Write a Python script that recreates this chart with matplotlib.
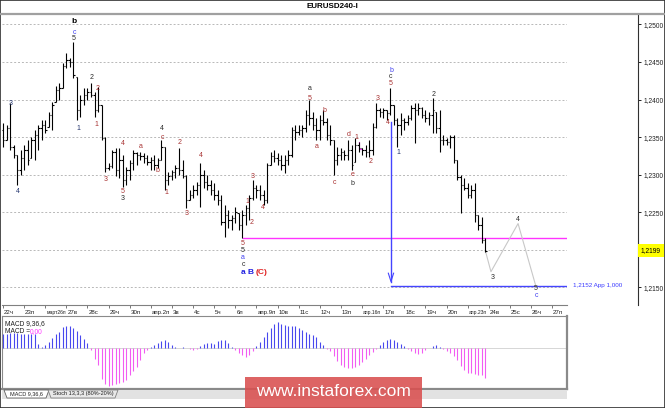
import numpy as np
import matplotlib
matplotlib.use("Agg")
import matplotlib.pyplot as plt
import matplotlib.transforms as mtransforms
from matplotlib.collections import LineCollection
from matplotlib.lines import Line2D
from matplotlib.patches import Rectangle, Polygon

plt.rcParams['font.family'] = ['Liberation Sans', 'DejaVu Sans']

# EURUSD H4 bars, 22 Mar .. 23 Apr
high = [1.2369, 1.2366, 1.2395, 1.2339, 1.2326, 1.2333, 1.2339, 1.2346, 1.2350, 1.2359,
        1.2366, 1.2373, 1.2373, 1.2383, 1.2397, 1.2418, 1.2422, 1.2449, 1.2462, 1.2455,
        1.2476, 1.2430, 1.2406, 1.2415, 1.2415, 1.2422, 1.2410, 1.2417, 1.2393, 1.2350,
        1.2316, 1.2333, 1.2335, 1.2335, 1.2326, 1.2310, 1.2320, 1.2333, 1.2330, 1.2330,
        1.2329, 1.2326, 1.2324, 1.2326, 1.2322, 1.2346, 1.2337, 1.2304, 1.2306, 1.2313,
        1.2335, 1.2320, 1.2300, 1.2280, 1.2286, 1.2290, 1.2316, 1.2306, 1.2300, 1.2293,
        1.2289, 1.2280, 1.2273, 1.2260, 1.2253, 1.2246, 1.2257, 1.2249, 1.2253, 1.2260,
        1.2273, 1.2293, 1.2286, 1.2286, 1.2280, 1.2316, 1.2330, 1.2333, 1.2329, 1.2326,
        1.2326, 1.2333, 1.2363, 1.2366, 1.2366, 1.2366, 1.2386, 1.2399, 1.2383, 1.2375,
        1.2379, 1.2386, 1.2375, 1.2366, 1.2346, 1.2337, 1.2335, 1.2333, 1.2346, 1.2339,
        1.2349, 1.2343, 1.2335, 1.2339, 1.2346, 1.2369, 1.2395, 1.2389, 1.2389, 1.2386,
        1.2415, 1.2393, 1.2375, 1.2382, 1.2375, 1.2379, 1.2393, 1.2395, 1.2395, 1.2390,
        1.2386, 1.2383, 1.2402, 1.2383, 1.2386, 1.2353, 1.2349, 1.2353, 1.2353, 1.2320,
        1.2300, 1.2296, 1.2289, 1.2286, 1.2289, 1.2246, 1.2244, 1.2216]
low = [1.2337, 1.2346, 1.2333, 1.2322, 1.2286, 1.2300, 1.2306, 1.2313, 1.2322, 1.2320,
       1.2333, 1.2346, 1.2355, 1.2363, 1.2359, 1.2397, 1.2399, 1.2415, 1.2442, 1.2443,
       1.2429, 1.2373, 1.2377, 1.2393, 1.2399, 1.2403, 1.2377, 1.2383, 1.2346, 1.2304,
       1.2306, 1.2309, 1.2298, 1.2296, 1.2284, 1.2286, 1.2293, 1.2306, 1.2313, 1.2320,
       1.2316, 1.2313, 1.2306, 1.2306, 1.2309, 1.2320, 1.2280, 1.2286, 1.2293, 1.2296,
       1.2300, 1.2296, 1.2256, 1.2266, 1.2269, 1.2273, 1.2257, 1.2282, 1.2280, 1.2273,
       1.2266, 1.2260, 1.2233, 1.2217, 1.2229, 1.2226, 1.2236, 1.2226, 1.2216, 1.2233,
       1.2240, 1.2266, 1.2269, 1.2266, 1.2260, 1.2262, 1.2313, 1.2317, 1.2313, 1.2306,
       1.2302, 1.2313, 1.2324, 1.2346, 1.2353, 1.2350, 1.2357, 1.2366, 1.2359, 1.2346,
       1.2346, 1.2366, 1.2346, 1.2339, 1.2300, 1.2313, 1.2320, 1.2320, 1.2320, 1.2306,
       1.2317, 1.2330, 1.2326, 1.2324, 1.2324, 1.2326, 1.2362, 1.2377, 1.2375, 1.2373,
       1.2379, 1.2366, 1.2337, 1.2353, 1.2359, 1.2366, 1.2373, 1.2342, 1.2379, 1.2375,
       1.2370, 1.2366, 1.2355, 1.2355, 1.2330, 1.2339, 1.2339, 1.2335, 1.2316, 1.2293,
       1.2249, 1.2280, 1.2269, 1.2269, 1.2237, 1.2226, 1.2209, 1.2197]
close = [1.2346, 1.2362, 1.2337, 1.2326, 1.2306, 1.2322, 1.2333, 1.2320, 1.2346, 1.2353,
         1.2362, 1.2366, 1.2359, 1.2379, 1.2393, 1.2413, 1.2415, 1.2445, 1.2453, 1.2450,
         1.2433, 1.2386, 1.2399, 1.2406, 1.2410, 1.2406, 1.2386, 1.2393, 1.2349, 1.2309,
         1.2312, 1.2330, 1.2306, 1.2320, 1.2293, 1.2306, 1.2316, 1.2329, 1.2326, 1.2325,
         1.2322, 1.2317, 1.2320, 1.2313, 1.2320, 1.2337, 1.2293, 1.2298, 1.2304, 1.2309,
         1.2306, 1.2298, 1.2266, 1.2273, 1.2280, 1.2286, 1.2300, 1.2290, 1.2286, 1.2280,
         1.2273, 1.2266, 1.2237, 1.2246, 1.2240, 1.2242, 1.2250, 1.2233, 1.2246, 1.2256,
         1.2269, 1.2282, 1.2280, 1.2273, 1.2266, 1.2313, 1.2325, 1.2322, 1.2320, 1.2313,
         1.2320, 1.2326, 1.2359, 1.2357, 1.2359, 1.2362, 1.2379, 1.2375, 1.2366, 1.2359,
         1.2373, 1.2370, 1.2353, 1.2346, 1.2320, 1.2326, 1.2330, 1.2326, 1.2333, 1.2313,
         1.2339, 1.2335, 1.2333, 1.2330, 1.2333, 1.2363, 1.2386, 1.2383, 1.2386, 1.2382,
         1.2393, 1.2373, 1.2366, 1.2373, 1.2370, 1.2375, 1.2389, 1.2386, 1.2389, 1.2379,
         1.2375, 1.2379, 1.2386, 1.2362, 1.2346, 1.2346, 1.2343, 1.2350, 1.2320, 1.2297,
         1.2286, 1.2282, 1.2273, 1.2280, 1.2246, 1.2233, 1.2213, 1.2199]
first_open = 1.2360

# MACD(9,36,6) histogram, in 1e-4
macd_hist = [14, 14, 15, 15, 15, 14, 14, 14, 14, 14,
             4, 1, 3, 6, 10, 14, 16, 21, 22, 22, 20, 17, 13, 9, 5, -2,
             -11, -17, -31, -36, -38, -37, -36, -35, -34, -32, -27, -23, -19, -12, -5, -2,
             1, 3, 5, 7, 8, 6, 3, 1, 0.5, 1,
             0.3, -0.5, -1.5, -0.5,
             2, 4, 5, 5, 4, 7, 8, 8, 5, 1,
             -2, -5, -7, -9, -7, -3,
             2, 6, 11, 16, 20, 24, 26, 24, 23, 22, 22, 22, 20, 18, 16, 14, 13, 11, 6, 3,
             -1, -3, -8, -13, -17, -19, -20, -20, -19, -17, -14, -11, -7, -4, -1,
             3, 6, 8, 9, 8, 6, 4, 2,
             -1, -3, -5, -6, -5, -2,
             0.5, 2, 3, 1.5,
             -1, -3, -5, -8, -12, -18, -22, -25, -25, -26, -27, -27, -30]

day_labels = ["22ч", "23п", "март26п", "27в", "28с", "29ч", "30п", "апр.2п", "3в", "4с",
              "5ч", "6п", "апр.9п", "10в", "11с", "12ч", "13п", "апр.16п", "17в", "18с",
              "19ч", "20п", "апр.23п", "24в", "25с", "26ч", "27п"]
bars_per_day = 6

grid_levels = [1.2150, 1.2200, 1.2250, 1.2300, 1.2350, 1.2400, 1.2450, 1.2500]
price_ticks = [1.2150, 1.2250, 1.2300, 1.2350, 1.2400, 1.2450, 1.2500]
last_price = 1.2199

support_level = 1.2216   # magenta line
support_from = 68.2
target_level = 1.2152    # blue line
target_from = 110.2
target_top = 1.2370

forecast_bar = [137, 138.6, 146.3, 151.4]
forecast_price = [1.2199, 1.2171, 1.2235, 1.2151]

RED = '#a83232'
DARK = '#2a2a2a'
NAVY = '#24356e'
BLUE = '#4040f0'

# wave marks: bar, price, text, colour
waves = [
    (2.3, 1.2395, '3', NAVY), (4.3, 1.2278, '4', NAVY),
    (20.2, 1.2489, 'c', BLUE), (20.2, 1.2481, '5', DARK),
    (21.3, 1.2362, '1', NAVY), (25.3, 1.2429, '2', DARK),
    (27.0, 1.2415, '2', RED), (26.4, 1.2367, '1', RED), (29.3, 1.2294, '3', RED),
    (34.1, 1.2342, '4', RED), (34.1, 1.2278, '5', RED), (34.1, 1.2269, '3', DARK),
    (39.2, 1.2337, 'a', RED), (45.2, 1.2361, '4', DARK), (45.2, 1.2350, 'c', RED),
    (44.0, 1.2305, 'b', RED), (46.3, 1.2276, '1', RED), (50.3, 1.2343, '2', RED),
    (52.3, 1.2248, '3', RED), (56.3, 1.2325, '4', RED),
    (68.2, 1.2208, '5', RED), (68.2, 1.2199, '5', DARK), (68.2, 1.2190, 'a', BLUE),
    (68.2, 1.2181, 'c', DARK),
    (69.3, 1.2264, '1', RED), (70.5, 1.2237, '2', RED), (71.0, 1.2297, '3', RED),
    (73.9, 1.2256, '4', RED),
    (87.2, 1.2414, 'a', DARK), (87.2, 1.2402, '5', RED), (89.2, 1.2337, 'a', RED),
    (91.2, 1.2385, 'b', RED), (94.3, 1.2290, 'c', RED), (98.3, 1.2353, 'd', RED),
    (99.4, 1.2300, 'e', RED), (99.4, 1.2288, 'b', DARK), (100.3, 1.2350, '1', RED),
    (104.3, 1.2317, '2', RED), (106.3, 1.2401, '3', RED), (109.4, 1.2369, '4', RED),
    (110.2, 1.2439, 'b', BLUE), (110.2, 1.2430, 'c', DARK), (110.2, 1.2421, '5', RED),
    (112.2, 1.2329, '1', NAVY), (122.2, 1.2407, '2', DARK),
    (139.2, 1.2163, '3', DARK), (146.3, 1.2241, '4', DARK),
    (151.4, 1.2148, '5', DARK), (151.4, 1.2139, 'c', BLUE),
]

W, H = 665, 408


def fx(px):
    return px / W


def fy(py):
    return 1 - py / H


def fmt(v):
    return f"{v:.4f}".replace('.', ',')


fig = plt.figure(figsize=(W / 100, H / 100), dpi=100)

# ---- main price panel
ax = fig.add_axes([fx(2), fy(305), fx(567) - fx(2), fy(15) - fy(305)])
ax.set_xlim(-0.28, 160.2)
ax.set_ylim(1.21267, 1.25124)
for lvl in grid_levels:
    ax.axhline(lvl, color='#b8b8b8', lw=0.7, ls=(0, (2, 2)), zorder=0)

n = len(close)
opens = [first_open] + close[:-1]
segs = []
for i in range(n):
    o = min(max(opens[i], low[i]), high[i])
    segs.append([(i, low[i]), (i, high[i])])
    segs.append([(i - 0.4, o), (i, o)])
    segs.append([(i, close[i]), (i + 0.4, close[i])])
ax.add_collection(LineCollection(segs, colors='black', linewidths=0.8, zorder=3))

# levels, arrow and forecast path
ax.plot([support_from, 160.2], [support_level] * 2, color='#ff33ff', lw=1.0, zorder=2)
ax.plot([target_from, 160.2], [target_level] * 2, color='#4444ff', lw=1.0, zorder=2)
ax.plot([target_from, target_from], [target_top, target_level + 0.0005], color='#4444ff', lw=1.0)
ax.plot([target_from - 0.75, target_from, target_from + 0.75],
        [target_level + 0.0017, target_level + 0.0006, target_level + 0.0017],
        color='#4444ff', lw=0.8)
ax.plot([101.1, 101.1, 102.0], [1.2343, 1.2334, 1.2334], color='#ff33ff', lw=0.8)
ax.plot(forecast_bar, forecast_price, color='#c8c8c8', lw=0.8, zorder=2)
ax.text(161.9, target_level, "1,2152 App 1,000", color='#3a3aff', fontsize=4.5,
        ha='left', va='center', clip_on=False)

for b, p, t, c in waves:
    ax.text(b, p, t, color=c, fontsize=5, ha='center', va='center', zorder=4)
ax.text(20.2, 1.2499, 'b', color='black', fontsize=6, fontweight='bold', ha='center', va='bottom')
ax.text(68.2, 1.2170, 'a', color='#2020e0', fontsize=6, fontweight='bold', ha='center', va='center')
ax.text(70.3, 1.2170, 'B', color='#2020e0', fontsize=6, fontweight='bold', ha='center', va='center')
ax.text(73.4, 1.2170, '(C)', color='#e02020', fontsize=6, fontweight='bold', ha='center', va='center')

for s in ['top', 'left', 'right']:
    ax.spines[s].set_visible(False)
ax.spines['bottom'].set_color('#808080')
ax.spines['bottom'].set_linewidth(0.8)
ax.set_yticks([])
ax.set_xticks([d * bars_per_day for d in range(len(day_labels))])
ax.set_xticklabels(day_labels)
ax.tick_params(axis='x', length=2.5, width=0.6, color='#606060', labelsize=4.4, pad=1,
               labelcolor='#202020')
shift = mtransforms.ScaledTranslation(1.0 / 100, 0, fig.dpi_scale_trans)
for lab in ax.get_xticklabels():
    lab.set_horizontalalignment('left')
    lab.set_transform(lab.get_transform() + shift)
    if len(lab.get_text()) > 6:
        lab.set_fontsize(3.6)

# ---- price scale on the right
axp = fig.add_axes([fx(637), fy(305), 0.5 / W, fy(15) - fy(305)])
axp.set_ylim(ax.get_ylim())
axp.set_xticks([])
for s in ['top', 'left', 'bottom']:
    axp.spines[s].set_visible(False)
axp.spines['right'].set_color('#303030')
axp.spines['right'].set_linewidth(0.8)
axp.yaxis.tick_right()
axp.set_yticks(price_ticks)
axp.set_yticklabels([fmt(v) for v in price_ticks])
axp.tick_params(axis='y', length=2.5, width=0.6, labelsize=4.8, pad=1.5, labelcolor='#202020')
axp.annotate(fmt(last_price), xy=(1, last_price), xycoords=('axes fraction', 'data'),
             xytext=(2.2, 0), textcoords='offset points', fontsize=4.8, ha='left', va='center',
             bbox=dict(boxstyle='square,pad=0.45', fc='#ffff00', ec='none'))

# ---- MACD panel
axm = fig.add_axes([fx(2), fy(389), fx(567) - fx(2), fy(316) - fy(389)])
axm.set_xlim(ax.get_xlim())
axm.set_ylim(-41, 32)
axm.axhline(0, color='#d0d0d0', lw=0.6, zorder=0)
cols = ['#4848ee' if v >= 0 else '#f25cf2' for v in macd_hist]
axm.vlines(np.arange(n), 0, macd_hist, colors=cols, linewidth=0.8)
axm.set_xticks([])
axm.set_yticks([])
for s in axm.spines.values():
    s.set_color('#8a8a8a')
    s.set_linewidth(0.8)
axm.spines['bottom'].set_linewidth(1.6)
axm.spines['right'].set_linewidth(1.6)
axm.text(0.006, 0.9, "MACD 9,36,6", transform=axm.transAxes, fontsize=4.8, color='#202020',
         va='center')
axm.text(0.006, 0.79, "MACD =", transform=axm.transAxes, fontsize=4.8, color='#202020',
         va='center')
axm.text(0.05, 0.79, "0,00", transform=axm.transAxes, fontsize=4.8, color='#ff33ff',
         va='center')

# ---- tab strip below the indicator
fig.add_artist(Rectangle((fx(2), fy(399)), fx(565), 9 / H, transform=fig.transFigure,
                         fc='#e2e2e2', ec='none'))
fig.add_artist(Polygon([(fx(4), fy(390)), (fx(7), fy(398)), (fx(46), fy(398)), (fx(49), fy(390))],
                       closed=True, transform=fig.transFigure, fc='white', ec='#606060', lw=0.6))
fig.add_artist(Polygon([(fx(48), fy(390)), (fx(51), fy(398)), (fx(115), fy(398)), (fx(118), fy(390))],
                       closed=True, transform=fig.transFigure, fc='#e8e8e8', ec='#808080', lw=0.6))
fig.text(fx(26.5), fy(394), "MACD 9,36,6", fontsize=4, ha='center', va='center', color='#202020')
fig.text(fx(83), fy(394), "Stoch 13,3,3 (80%-20%)", fontsize=4, ha='center', va='center',
         color='#202020')

# ---- title and frame
fig.text(fx(332), fy(7), "EURUSD240-I", fontsize=5.8, fontweight='bold', ha='center', va='center')
fig.add_artist(Line2D([0, 1], [fy(14), fy(14)], transform=fig.transFigure, color='#a0a0a0', lw=1.6))
fig.add_artist(Rectangle((0, 0), 1, 1, transform=fig.transFigure, fill=False, ec='#303030', lw=1.2))

# ---- watermark
fig.add_artist(Rectangle((fx(245), 0), fx(177), 31 / H, transform=fig.transFigure,
                         fc='#d94f4f', ec='none', alpha=0.88, zorder=10))
fig.text(fx(333), fy(392), "www.instaforex.com", fontsize=12.5, color='white', ha='center',
         va='center', zorder=11)

fig.savefig("out.png", dpi=100)
